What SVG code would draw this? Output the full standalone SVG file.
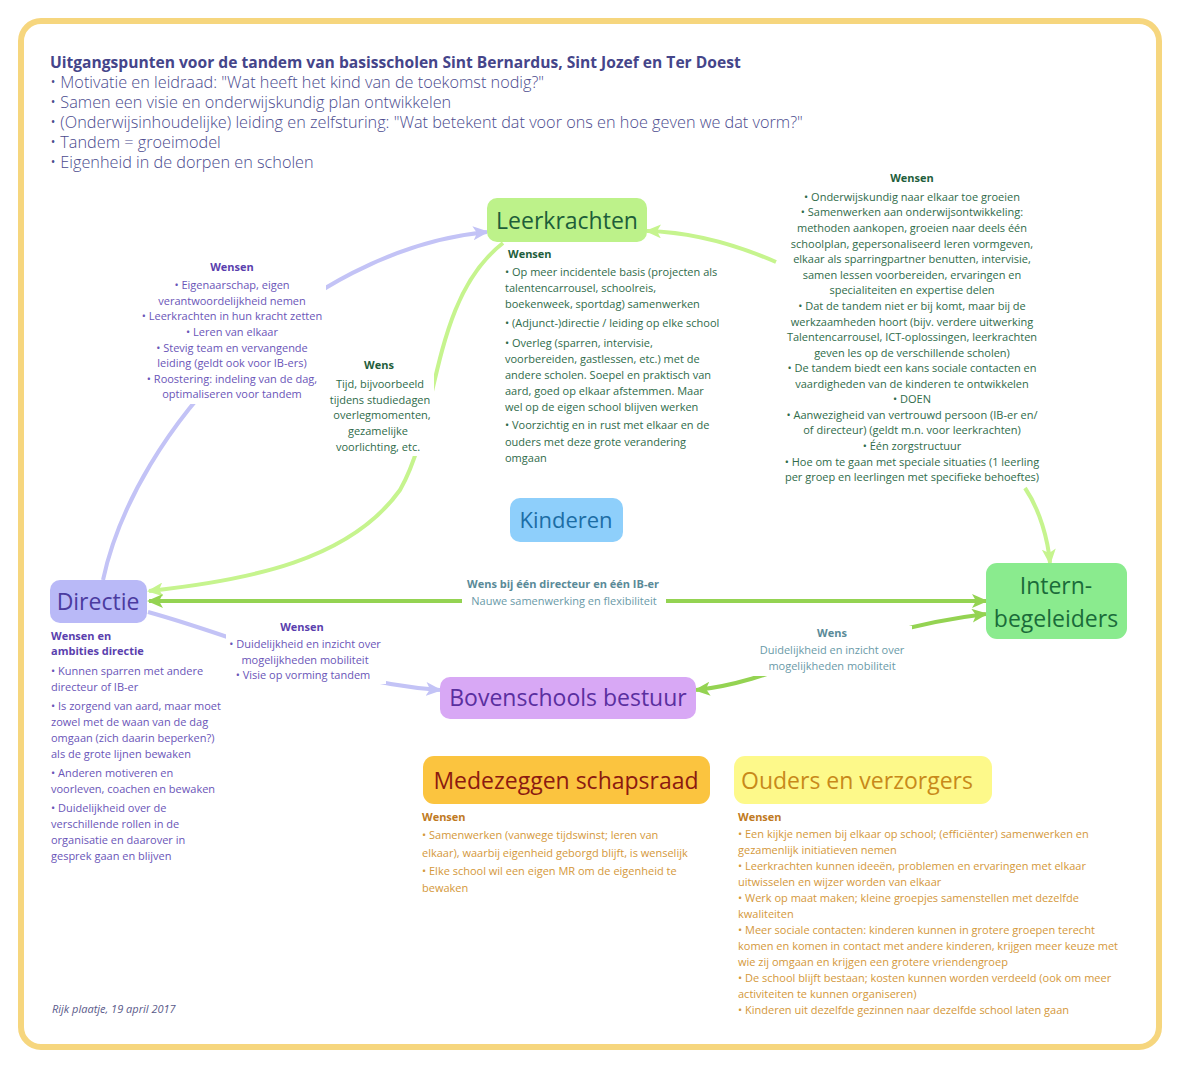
<svg xmlns="http://www.w3.org/2000/svg" width="1180" height="1068" viewBox="0 0 1180 1068">
<defs>
<style>
text{font-family:"Open Sans","Noto Sans","DejaVu Sans",sans-serif}
.hd{font-size:16.25px;font-weight:300;fill:#4b4b8e}
.ttl{font-size:15.6px;font-weight:bold;fill:#45458a}
.nd{font-size:23px;text-anchor:middle}
.s{font-size:11px}
.b{font-weight:bold}
.c{text-anchor:middle}
.pu{fill:#6a55b8}
.pub{fill:#5a3fae}
.gr{fill:#2f6b4a}
.grb{fill:#1e5e3c}
.te{fill:#6a9aa8}
.teb{fill:#5a8a98}
.or{fill:#d4983a}
.orb{fill:#c07a22}
.lav{fill:none;stroke:#c3c3f6;stroke-width:4}
.lg{fill:none;stroke:#c6f48e;stroke-width:4}
.mg{fill:none;stroke:#94d352;stroke-width:4}
</style>
<marker id="aLav" markerUnits="userSpaceOnUse" markerWidth="16" markerHeight="14" refX="14" refY="7" orient="auto-start-reverse"><path d="M0,0 L16,7 L0,14 L4,7 z" fill="#c3c3f6"/></marker>
<marker id="aLg" markerUnits="userSpaceOnUse" markerWidth="16" markerHeight="14" refX="14" refY="7" orient="auto-start-reverse"><path d="M0,0 L16,7 L0,14 L4,7 z" fill="#c6f48e"/></marker>
<marker id="aMg" markerUnits="userSpaceOnUse" markerWidth="16" markerHeight="14" refX="14" refY="7" orient="auto-start-reverse"><path d="M0,0 L16,7 L0,14 L4,7 z" fill="#94d352"/></marker>
</defs>
<rect x="0" y="0" width="1180" height="1068" fill="#ffffff"/>
<rect x="21" y="21" width="1138" height="1026" rx="20" fill="#ffffff" stroke="#f6d67e" stroke-width="6"/>

<g id="header">
<text class="ttl" x="50" y="68">Uitgangspunten voor de tandem van basisscholen Sint Bernardus, Sint Jozef en Ter Doest</text>
<text class="hd" x="50" y="88">• Motivatie en leidraad: "Wat heeft het kind van de toekomst nodig?"</text>
<text class="hd" x="50" y="108">• Samen een visie en onderwijskundig plan ontwikkelen</text>
<text class="hd" x="50" y="128">• (Onderwijsinhoudelijke) leiding en zelfsturing: "Wat betekent dat voor ons en hoe geven we dat vorm?"</text>
<text class="hd" x="50" y="148">• Tandem = groeimodel</text>
<text class="hd" x="50" y="168">• Eigenheid in de dorpen en scholen</text>
</g>

<g id="connectors">
<path class="lav" d="M103,580 C135,430 300,250 487,232" marker-end="url(#aLav)"/>
<path class="lg" d="M503,243 C430,300 440,420 400,490 C350,560 250,580 149,591" marker-end="url(#aLg)"/>
<path class="lg" d="M776,262 C730,242 690,232 647,231" marker-end="url(#aLg)"/>
<path class="lg" d="M1025,488 C1040,510 1048,540 1050,563" marker-end="url(#aLg)"/>
<path class="mg" d="M149,601 L986,601" marker-start="url(#aMg)" marker-end="url(#aMg)"/>
<path class="mg" d="M696,690 C780,682 850,630 986,614" marker-start="url(#aMg)" marker-end="url(#aMg)"/>
<path class="lav" d="M148,612 C250,640 330,682 440,690" marker-end="url(#aLav)"/>
</g>

<g id="label-directie-leerkrachten">
<rect x="140" y="258" width="186" height="146" fill="#ffffff"/>
<text class="s c b pub" x="232" y="271">Wensen</text>
<text class="s c pu" x="232" y="289">• Eigenaarschap, eigen</text>
<text class="s c pu" x="232" y="305">verantwoordelijkheid nemen</text>
<text class="s c pu" x="232" y="320">• Leerkrachten in hun kracht zetten</text>
<text class="s c pu" x="232" y="336">• Leren van elkaar</text>
<text class="s c pu" x="232" y="352">• Stevig team en vervangende</text>
<text class="s c pu" x="232" y="367">leiding  (geldt ook voor IB-ers)</text>
<text class="s c pu" x="232" y="383">• Roostering: indeling van de dag,</text>
<text class="s c pu" x="232" y="398">optimaliseren voor tandem</text>
</g>

<g id="label-leerkrachten-directie">
<rect x="326" y="356" width="108" height="100" fill="#ffffff"/>
<text class="s c b grb" x="379" y="369">Wens</text>
<text class="s c gr" x="380" y="388">Tijd, bijvoorbeeld</text>
<text class="s c gr" x="380" y="404">tijdens studiedagen</text>
<text class="s c gr" x="382" y="419">overlegmomenten,</text>
<text class="s c gr" x="378" y="435">gezamelijke</text>
<text class="s c gr" x="378" y="451">voorlichting, etc.</text>
</g>

<g id="label-leerkrachten-wensen">
<text class="s b grb" x="508" y="258">Wensen</text>
<text class="s gr" x="505" y="276">• Op meer incidentele basis (projecten als</text>
<text class="s gr" x="505" y="292">talentencarrousel, schoolreis,</text>
<text class="s gr" x="505" y="308">boekenweek, sportdag) samenwerken</text>
<text class="s gr" x="505" y="327">• (Adjunct-)directie / leiding op elke school</text>
<text class="s gr" x="505" y="347">• Overleg (sparren, intervisie,</text>
<text class="s gr" x="505" y="363">voorbereiden, gastlessen, etc.) met de</text>
<text class="s gr" x="505" y="379">andere scholen. Soepel en praktisch van</text>
<text class="s gr" x="505" y="395">aard, goed op elkaar afstemmen. Maar</text>
<text class="s gr" x="505" y="411">wel op de eigen school blijven werken</text>
<text class="s gr" x="505" y="429">• Voorzichtig en in rust met elkaar en de</text>
<text class="s gr" x="505" y="446">ouders met deze grote verandering</text>
<text class="s gr" x="505" y="462">omgaan</text>
</g>

<g id="label-ib-wensen">
<text class="s c b grb" x="912" y="182">Wensen</text>
<text class="s c gr" x="912" y="201">• Onderwijskundig naar elkaar toe groeien</text>
<text class="s c gr" x="912" y="216">• Samenwerken aan onderwijsontwikkeling:</text>
<text class="s c gr" x="912" y="232">methoden aankopen, groeien naar deels één</text>
<text class="s c gr" x="912" y="248">schoolplan, gepersonaliseerd leren vormgeven,</text>
<text class="s c gr" x="912" y="263">elkaar als sparringpartner benutten, intervisie,</text>
<text class="s c gr" x="912" y="279">samen lessen voorbereiden, ervaringen en</text>
<text class="s c gr" x="912" y="294">specialiteiten en expertise delen</text>
<text class="s c gr" x="912" y="310">• Dat de tandem niet er bij komt, maar bij de</text>
<text class="s c gr" x="912" y="326">werkzaamheden hoort (bijv. verdere uitwerking</text>
<text class="s c gr" x="912" y="341">Talentencarrousel, ICT-oplossingen, leerkrachten</text>
<text class="s c gr" x="912" y="357">geven les op de verschillende scholen)</text>
<text class="s c gr" x="912" y="372">• De tandem biedt een kans sociale contacten en</text>
<text class="s c gr" x="912" y="388">vaardigheden van de kinderen te ontwikkelen</text>
<text class="s c gr" x="912" y="403">• DOEN</text>
<text class="s c gr" x="912" y="419">• Aanwezigheid van vertrouwd persoon (IB-er en/</text>
<text class="s c gr" x="912" y="434">of directeur) (geldt m.n. voor leerkrachten)</text>
<text class="s c gr" x="912" y="450">• Één zorgstructuur</text>
<text class="s c gr" x="912" y="466">• Hoe om te gaan met speciale situaties (1 leerling</text>
<text class="s c gr" x="912" y="481">per groep en leerlingen met specifieke behoeftes)</text>
</g>

<g id="label-directie-ib">
<rect x="462" y="576" width="204" height="34" fill="#ffffff"/>
<text class="s c b teb" x="563" y="588">Wens bij één directeur  en één IB-er</text>
<text class="s c te" x="564" y="605">Nauwe samenwerking  en flexibiliteit</text>
</g>

<g id="label-bestuur-ib">
<rect x="752" y="626" width="160" height="50" fill="#ffffff"/>
<text class="s c b teb" x="832" y="637">Wens</text>
<text class="s c te" x="832" y="654">Duidelijkheid en inzicht over</text>
<text class="s c te" x="832" y="670">mogelijkheden mobiliteit</text>
</g>

<g id="label-directie-bestuur">
<rect x="226" y="620" width="160" height="64" fill="#ffffff"/>
<text class="s c b pub" x="302" y="631">Wensen</text>
<text class="s c pu" x="305" y="648">• Duidelijkheid en inzicht over</text>
<text class="s c pu" x="305" y="664">mogelijkheden mobiliteit</text>
<text class="s c pu" x="303" y="679">• Visie op vorming tandem</text>
</g>

<g id="label-directie-wensen">
<text class="s b pub" x="51" y="640">Wensen en</text>
<text class="s b pub" x="51" y="655">ambities directie</text>
<text class="s pu" x="51" y="675">• Kunnen sparren met andere</text>
<text class="s pu" x="51" y="691">directeur of IB-er</text>
<text class="s pu" x="51" y="710">• Is zorgend van aard, maar moet</text>
<text class="s pu" x="51" y="726">zowel met de waan van de dag</text>
<text class="s pu" x="51" y="742">omgaan (zich daarin beperken?)</text>
<text class="s pu" x="51" y="758">als de grote lijnen bewaken</text>
<text class="s pu" x="51" y="777">• Anderen motiveren en</text>
<text class="s pu" x="51" y="793">voorleven, coachen en bewaken</text>
<text class="s pu" x="51" y="812">• Duidelijkheid over de</text>
<text class="s pu" x="51" y="828">verschillende rollen in de</text>
<text class="s pu" x="51" y="844">organisatie en daarover in</text>
<text class="s pu" x="51" y="860">gesprek gaan en blijven</text>
</g>

<g id="label-mr-wensen">
<text class="s b orb" x="422" y="821">Wensen</text>
<text class="s or" x="422" y="839">• Samenwerken (vanwege tijdswinst; leren van</text>
<text class="s or" x="422" y="857">elkaar), waarbij eigenheid geborgd blijft, is wenselijk</text>
<text class="s or" x="422" y="875">• Elke school wil een eigen MR om de eigenheid te</text>
<text class="s or" x="422" y="892">bewaken</text>
</g>

<g id="label-ouders-wensen">
<text class="s b orb" x="738" y="821">Wensen</text>
<text class="s or" x="738" y="838">•  Een kijkje nemen bij elkaar op school; (efficiënter) samenwerken en</text>
<text class="s or" x="738" y="854">gezamenlijk initiatieven nemen</text>
<text class="s or" x="738" y="870">•  Leerkrachten kunnen ideeën, problemen en ervaringen met elkaar</text>
<text class="s or" x="738" y="886">uitwisselen en wijzer worden van elkaar</text>
<text class="s or" x="738" y="902">•  Werk op maat maken; kleine groepjes samenstellen met dezelfde</text>
<text class="s or" x="738" y="918">kwaliteiten</text>
<text class="s or" x="738" y="934">•  Meer sociale contacten: kinderen kunnen in grotere groepen terecht</text>
<text class="s or" x="738" y="950">komen en komen in contact met andere kinderen, krijgen meer keuze met</text>
<text class="s or" x="738" y="966">wie zij omgaan en krijgen een grotere vriendengroep</text>
<text class="s or" x="738" y="982">•  De school blijft bestaan; kosten kunnen worden verdeeld (ook om meer</text>
<text class="s or" x="738" y="998">activiteiten te kunnen organiseren)</text>
<text class="s or" x="738" y="1014">•  Kinderen uit dezelfde gezinnen naar dezelfde school laten gaan</text>
</g>

<g id="node-leerkrachten">
<rect x="487" y="198" width="160" height="44" rx="10" fill="#bdf28a"/>
<text class="nd" x="567" y="229" fill="#1d5e3a">Leerkrachten</text>
</g>
<g id="node-kinderen">
<rect x="510" y="498" width="113" height="44" rx="10" fill="#8ecffb"/>
<text class="nd" x="566" y="528" fill="#1b6da5" style="font-size:22px">Kinderen</text>
</g>
<g id="node-directie">
<rect x="50" y="580" width="97" height="43" rx="10" fill="#b9b9f7"/>
<text class="nd" x="98" y="610" fill="#4b3ba0">Directie</text>
</g>
<g id="node-intern-begeleiders">
<rect x="986" y="563" width="141" height="76" rx="11" fill="#8aeb8e"/>
<text class="nd" x="1056" y="594" fill="#1a6b3a">Intern-</text>
<text class="nd" x="1056" y="627" fill="#1a6b3a">begeleiders</text>
</g>
<g id="node-bovenschools-bestuur">
<rect x="440" y="677" width="256" height="42" rx="10" fill="#d8a8f5"/>
<text class="nd" x="568" y="706" fill="#5a2fa0">Bovenschools bestuur</text>
</g>
<g id="node-medezeggenschapsraad">
<rect x="423" y="756" width="287" height="48" rx="11" fill="#fbc43f"/>
<text class="nd" x="566" y="789" fill="#8b1a10">Medezeggen schapsraad</text>
</g>
<g id="node-ouders">
<rect x="734" y="756" width="258" height="48" rx="11" fill="#fdf98a"/>
<text class="nd" x="857" y="789" fill="#c8891a">Ouders en verzorgers</text>
</g>

<g id="footer">
<text x="52" y="1013" style="font-size:11px;font-style:italic" fill="#5a5a8a">Rijk plaatje, 19 april 2017</text>
</g>
</svg>
